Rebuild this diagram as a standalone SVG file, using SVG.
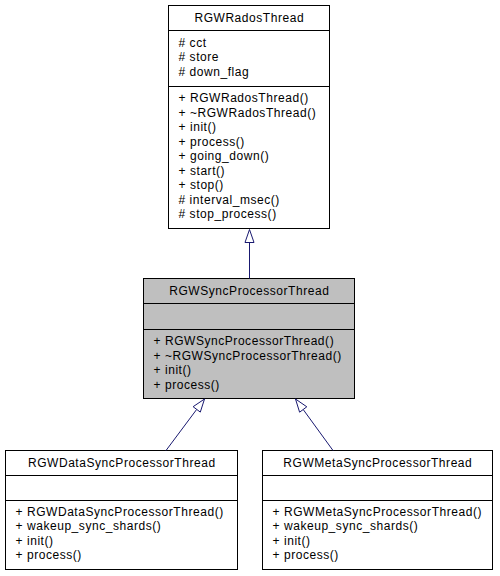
<svg xmlns="http://www.w3.org/2000/svg" width="500" height="576" viewBox="0 0 500 576">
<style>
.box{fill:#ffffff;stroke:#000000;stroke-width:1}
.gray{fill:#bfbfbf}
.div{stroke:#000000;stroke-width:1}
text{font-family:"Liberation Sans",Arial,Helvetica,sans-serif;font-size:12px;letter-spacing:0.55px;fill:#000000}
.t{text-anchor:middle}
.edge{stroke:#191970;stroke-width:1;fill:none}
.head{stroke:#191970;stroke-width:1;fill:#ffffff}
</style>
<rect width="500" height="576" fill="#ffffff"/>
<g id="node-RGWRadosThread">
<rect class="box" x="168.5" y="5.5" width="161" height="223"/>
<line class="div" x1="168.5" y1="30.5" x2="329.5" y2="30.5"/>
<line class="div" x1="168.5" y1="86.5" x2="329.5" y2="86.5"/>
<text class="t" x="249.3" y="22">RGWRadosThread</text>
<text x="178.5" y="46.5"># cct</text>
<text x="178.5" y="61"># store</text>
<text x="178.5" y="75.5"># down_flag</text>
<text x="178.5" y="102">+ RGWRadosThread()</text>
<text x="178.5" y="116.5">+ ~RGWRadosThread()</text>
<text x="178.5" y="131">+ init()</text>
<text x="178.5" y="145.5">+ process()</text>
<text x="178.5" y="160">+ going_down()</text>
<text x="178.5" y="174.5">+ start()</text>
<text x="178.5" y="189">+ stop()</text>
<text x="178.5" y="203.5"># interval_msec()</text>
<text x="178.5" y="218"># stop_process()</text>
</g>
<g id="node-RGWSyncProcessorThread">
<rect class="box gray" x="143.5" y="278.5" width="211" height="120"/>
<line class="div" x1="143.5" y1="303.5" x2="354.5" y2="303.5"/>
<line class="div" x1="143.5" y1="329.5" x2="354.5" y2="329.5"/>
<text class="t" x="249.3" y="295">RGWSyncProcessorThread</text>
<text x="153.5" y="345">+ RGWSyncProcessorThread()</text>
<text x="153.5" y="359.5">+ ~RGWSyncProcessorThread()</text>
<text x="153.5" y="374">+ init()</text>
<text x="153.5" y="388.5">+ process()</text>
</g>
<g id="node-RGWDataSyncProcessorThread">
<rect class="box" x="5.5" y="450.5" width="232" height="119"/>
<line class="div" x1="5.5" y1="475.5" x2="237.5" y2="475.5"/>
<line class="div" x1="5.5" y1="500.5" x2="237.5" y2="500.5"/>
<text class="t" x="121.8" y="466.5">RGWDataSyncProcessorThread</text>
<text x="15.5" y="515.5">+ RGWDataSyncProcessorThread()</text>
<text x="15.5" y="530">+ wakeup_sync_shards()</text>
<text x="15.5" y="544.5">+ init()</text>
<text x="15.5" y="559">+ process()</text>
</g>
<g id="node-RGWMetaSyncProcessorThread">
<rect class="box" x="262.5" y="450.5" width="230" height="119"/>
<line class="div" x1="262.5" y1="475.5" x2="492.5" y2="475.5"/>
<line class="div" x1="262.5" y1="500.5" x2="492.5" y2="500.5"/>
<text class="t" x="377.8" y="466.5">RGWMetaSyncProcessorThread</text>
<text x="272.5" y="515.5">+ RGWMetaSyncProcessorThread()</text>
<text x="272.5" y="530">+ wakeup_sync_shards()</text>
<text x="272.5" y="544.5">+ init()</text>
<text x="272.5" y="559">+ process()</text>
</g>
<g id="connectors">
<line class="edge" x1="249.5" y1="278.5" x2="249.5" y2="242.5"/>
<polygon class="head" points="245,242.5 249.5,229.5 254,242.5"/>
<line class="edge" x1="166" y1="450.5" x2="196.7" y2="409.4"/>
<polygon class="head" points="193.1,406.7 204.5,399 200.3,412.1"/>
<line class="edge" x1="333" y1="450.5" x2="303.2" y2="409.5"/>
<polygon class="head" points="306.8,406.8 295.5,399 299.6,412.2"/>
</g>
</svg>
